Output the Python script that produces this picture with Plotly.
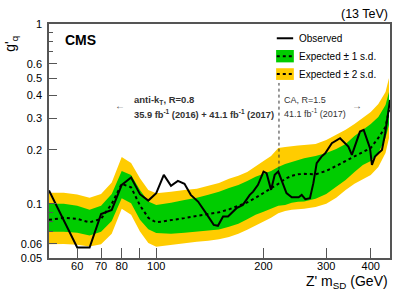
import plotly.graph_objects as go

# Band / expected grid (GeV)
mass = [50, 55, 60, 65, 70, 75, 80, 85, 90, 95, 100, 110, 120, 130, 140, 150, 160, 170,
        180, 190, 200, 210, 220, 230, 240, 250, 260, 280, 300, 320, 340, 360, 380, 400,
        420, 440, 450]
expected = [0.0815, 0.0836, 0.0825, 0.0789, 0.0825, 0.100, 0.1292, 0.1235, 0.0981, 0.0836,
            0.0789, 0.0810, 0.0833, 0.0858, 0.0880, 0.0897, 0.0932, 0.0975, 0.1019, 0.1080,
            0.1151, 0.1212, 0.1292, 0.1377, 0.1431, 0.1459, 0.1468, 0.1459, 0.1525, 0.1626,
            0.1733, 0.1824, 0.1945, 0.2047, 0.2326, 0.268, 0.333]
plus1 = [0.100, 0.100, 0.0975, 0.0926, 0.0975, 0.1136, 0.1525, 0.1449, 0.1196, 0.1030,
         0.0987, 0.1013, 0.1052, 0.1080, 0.1122, 0.1166, 0.1227, 0.1275, 0.1342, 0.1413,
         0.1468, 0.1525, 0.1605, 0.1668, 0.1711, 0.1756, 0.1795, 0.1848, 0.1920, 0.2021,
         0.2154, 0.2385, 0.258, 0.278, 0.304, 0.355, 0.419]
minus1 = [0.0699, 0.0699, 0.0690, 0.0666, 0.0699, 0.0804, 0.1073, 0.1009, 0.0815, 0.0723,
          0.0688, 0.0681, 0.0690, 0.0703, 0.0713, 0.0721, 0.0745, 0.0774, 0.0820, 0.0869,
          0.0903, 0.0938, 0.0975, 0.0987, 0.1013, 0.1026, 0.1030, 0.1066, 0.1136, 0.1243,
          0.1359, 0.1505, 0.1647, 0.1733, 0.1920, 0.2326, 0.275]
plus2 = [0.1151, 0.1151, 0.1129, 0.1080, 0.1136, 0.1316, 0.1824, 0.1689, 0.1389, 0.1196,
         0.1147, 0.1166, 0.1196, 0.1212, 0.1259, 0.1308, 0.1377, 0.1431, 0.1505, 0.1626,
         0.1733, 0.1848, 0.2047, 0.2073, 0.2100, 0.2113, 0.2127, 0.2154, 0.2268, 0.242,
         0.258, 0.278, 0.300, 0.324, 0.359, 0.419, 0.501]
minus2 = [0.0596, 0.0599, 0.0592, 0.0579, 0.0596, 0.0681, 0.0938, 0.0869, 0.0702, 0.0605,
          0.0577, 0.0592, 0.0607, 0.0615, 0.0623, 0.0635, 0.0655, 0.0681, 0.0717, 0.0755,
          0.0794, 0.0836, 0.0888, 0.0914, 0.0926, 0.0932, 0.0938, 0.0962, 0.100, 0.1080,
          0.1196, 0.1292, 0.1377, 0.1449, 0.1605, 0.1920, 0.2326]

# Observed limit
obs_mass = [50, 60, 65, 70, 75, 80, 85, 90, 95, 100, 105, 110, 115, 120, 125, 131, 137,
            145, 149, 154, 159, 168, 175, 183, 187, 193, 200, 204, 210, 215, 220, 225,
            232, 240, 251, 256, 262, 270, 276, 282, 291, 298, 311, 328, 339, 346, 354,
            362, 373, 382, 390, 398, 403, 411, 420, 430, 439, 448, 453]
observed = [0.1186, 0.0572, 0.0572, 0.0877, 0.0926, 0.1275, 0.140, 0.1132, 0.1043, 0.1147,
            0.1449, 0.1259, 0.1342, 0.1292, 0.1122, 0.1030, 0.0906, 0.0764, 0.0755, 0.0850,
            0.0850, 0.0946, 0.0987, 0.1122, 0.1170, 0.1275, 0.1512, 0.1481, 0.1196, 0.1449,
            0.1512, 0.1359, 0.1147, 0.1089, 0.1089, 0.1122, 0.1062, 0.1075, 0.1303, 0.1683,
            0.1832, 0.1912, 0.2174, 0.2317, 0.2174, 0.2081, 0.1872, 0.2127, 0.2522, 0.2577,
            0.2268, 0.2039, 0.1647, 0.1832, 0.1912, 0.1995, 0.2470, 0.3327, 0.378]

boundary_mass = [221, 221]
boundary_g = [0.155, 0.47]

x_ticks = [60, 70, 80, 90, 100, 200, 300, 400]
x_ticktext = ["60", "70", "80", "", "100", "200", "300", "400"]
y_ticks = [0.05, 0.06, 0.1, 0.2, 0.3, 0.4, 0.5, 0.6, 1]
y_ticktext = ["0.05", "0.06", "0.1", "0.2", "0.3", "0.4", "0.5", "0.6", "1"]
y_minor = [0.07, 0.08, 0.09, 0.7, 0.8, 0.9]

YELLOW = "#FFCC00"
GREEN = "#00CC00"
FONT = "Liberation Sans, Arial, Helvetica, sans-serif"

fig = go.Figure()
fig.add_trace(go.Scatter(x=mass, y=plus2, mode="lines", line=dict(width=0, color=YELLOW),
                         showlegend=False, hoverinfo="skip"))
fig.add_trace(go.Scatter(x=mass, y=minus2, mode="lines", line=dict(width=0, color=YELLOW),
                         fill="tonexty", fillcolor=YELLOW, showlegend=False, hoverinfo="skip"))
fig.add_trace(go.Scatter(x=mass, y=plus1, mode="lines", line=dict(width=0, color=GREEN),
                         showlegend=False, hoverinfo="skip"))
fig.add_trace(go.Scatter(x=mass, y=minus1, mode="lines", line=dict(width=0, color=GREEN),
                         fill="tonexty", fillcolor=GREEN, showlegend=False, hoverinfo="skip"))
fig.add_trace(go.Scatter(x=mass, y=expected, mode="lines",
                         line=dict(color="black", width=2, dash="dot"), showlegend=False))
fig.add_trace(go.Scatter(x=boundary_mass, y=boundary_g, mode="lines",
                         line=dict(color="#333333", width=1, dash="dot"), showlegend=False))
fig.add_trace(go.Scatter(x=obs_mass, y=observed, mode="lines",
                         line=dict(color="black", width=2), showlegend=False))

# manual legend (paper coordinates)
shapes = [
    dict(type="line", xref="paper", yref="paper", x0=0.668, x1=0.716, y0=0.939, y1=0.939,
         line=dict(color="black", width=2)),
    dict(type="rect", xref="paper", yref="paper", x0=0.666, x1=0.718, y0=0.836, y1=0.889,
         fillcolor=GREEN, line=dict(width=0)),
    dict(type="line", xref="paper", yref="paper", x0=0.668, x1=0.716, y0=0.862, y1=0.862,
         line=dict(color="black", width=2, dash="dot")),
    dict(type="rect", xref="paper", yref="paper", x0=0.666, x1=0.718, y0=0.761, y1=0.811,
         fillcolor=YELLOW, line=dict(width=0)),
    dict(type="line", xref="paper", yref="paper", x0=0.668, x1=0.716, y0=0.786, y1=0.786,
         line=dict(color="black", width=2, dash="dot")),
]

ann = []
def add(text, x, y, size, xanchor="left", yanchor="middle", bold=False, angle=0, color="black"):
    ann.append(dict(text=f"<b>{text}</b>" if bold else text, x=x, y=y, xref="paper",
                    yref="paper", showarrow=False, xanchor=xanchor, yanchor=yanchor,
                    textangle=angle, font=dict(size=size, family=FONT, color=color)))

add("Observed", 0.726, 0.939, 10)
add("Expected ± 1 s.d.", 0.726, 0.860, 10)
add("Expected ± 2 s.d.", 0.726, 0.786, 10)
add("CMS", 0.041, 0.932, 14, bold=True)
add("(13 TeV)", 1.0, 1.043, 12.5, xanchor="right")
add("Z' m<sub>SD</sub> (GeV)", 1.0, -0.104, 14, xanchor="right")
add("g'<sub>q</sub>", -0.112, 0.915, 14, xanchor="center", angle=-90)
add("anti-k<sub>T</sub>, R=0.8", 0.2425, 0.677, 9.5, bold=True, color="#333333")
add("35.9 fb<sup>-1</sup> (2016) + 41.1 fb<sup>-1</sup> (2017)", 0.2425, 0.615, 9.3, bold=True,
    color="#333333")
add("←", 0.208, 0.650, 10, xanchor="center", color="#555555")
add("CA, R=1.5", 0.683, 0.677, 9, color="#333333")
add("41.1 fb<sup>-1</sup> (2017)", 0.683, 0.618, 9, color="#333333")
add("→", 0.903, 0.650, 10, xanchor="center", color="#555555")

fig.update_layout(
    width=407, height=294,
    margin=dict(l=49, r=17, t=24, b=36),
    paper_bgcolor="white", plot_bgcolor="white",
    font=dict(family=FONT, size=11, color="black"),
    shapes=shapes, annotations=ann, showlegend=False,
    xaxis=dict(type="log", range=[1.699, 2.656], tickvals=x_ticks, ticktext=x_ticktext,
               ticks="inside", ticklen=10, tickwidth=1, tickcolor="#555555",
               showgrid=False, zeroline=False, showline=True, linecolor="#555555",
               linewidth=1.5, mirror=True, tickfont=dict(size=11), ticklabelstandoff=-3),
    yaxis=dict(type="log", range=[-1.30103, 0], tickvals=y_ticks, ticktext=y_ticktext,
               ticks="inside", ticklen=8, tickwidth=1, tickcolor="#555555",
               minor=dict(tickvals=y_minor, ticks="inside", ticklen=4, tickcolor="#555555"),
               showgrid=False, zeroline=False, showline=True, linecolor="#555555",
               linewidth=1.5, mirror=True, tickfont=dict(size=11), ticklabelstandoff=3),
)

fig.write_html("out.html", config={"displayModeBar": False},
               post_script="document.body.style.margin='0';")
